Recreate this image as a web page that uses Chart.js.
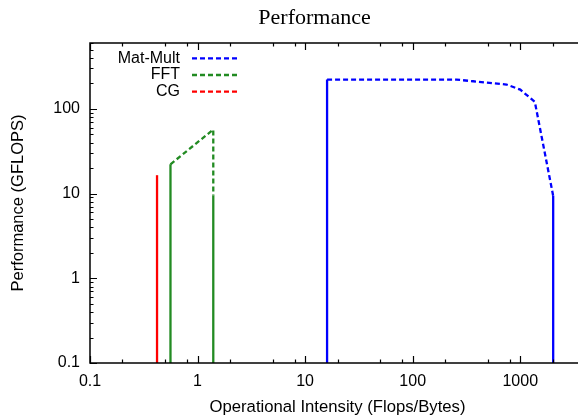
<!DOCTYPE html>
<html><head><meta charset="utf-8">
<script src="https://cdn.jsdelivr.net/npm/chart.js@4/dist/chart.umd.min.js"></script>
<style>html,body{margin:0;padding:0;overflow:hidden;background:#fff}canvas{display:block}</style>
</head><body>
<canvas id="c" width="600" height="417" style="width:600px;height:417px"></canvas>
<script>
const chartTitle = 'Performance';
const xAxisTitle = 'Operational Intensity (Flops/Bytes)';
const yAxisTitle = 'Performance (GFLOPS)';

const seriesNames = ['Mat-Mult', 'FFT', 'CG'];
const seriesColors = ['#0000ff', '#228b22', '#ff0000'];

// Mat-Mult: vertical wall, roof curve, vertical wall
const matMultX = [16, 16, 32, 64, 128, 256, 365, 745, 1000, 1367, 2024, 2024];
const matMultY = [0.1, 222, 222, 222, 222, 222, 212, 194, 169, 121, 9.4, 0.1];
// FFT
const fftX = [0.56, 0.56, 1.4, 1.4, 1.4];
const fftY = [0.1, 22.2, 57, 9.5, 0.1];
// CG
const cgX = [0.42, 0.42];
const cgY = [0.1, 16.5];

const xMajorTicks = [0.1, 1, 10, 100, 1000];
const xTickLabels = ['0.1', '1', '10', '100', '1000'];
const xMinorFactors = [2, 5, 8];
const yMajorTicks = [0.1, 1, 10, 100];
const yTickLabels = ['0.1', '1', '10', '100'];
const yMinorFactors = [2, 3, 4, 5, 6, 7, 8, 9];
const xRange = [0.1, 4000];
const yRange = [0.1, 600];

const seriesX = [matMultX, fftX, cgX];
const seriesY = [matMultY, fftY, cgY];
const DASH = [5, 3];
const SOLID = [];

const datasets = seriesNames.map((name, s) => {
  const xs = seriesX[s], ys = seriesY[s];
  const last = xs.length - 1;
  return {
    label: name,
    data: xs.map((v, i) => ({ x: v, y: ys[i] })),
    showLine: true,
    borderColor: seriesColors[s],
    backgroundColor: seriesColors[s],
    borderWidth: 2.3,
    borderDash: DASH,
    pointRadius: 0,
    tension: 0,
    segment: {
      borderDash: ctx => (ctx.p0DataIndex === 0 || ctx.p1DataIndex === last) ? SOLID : DASH
    }
  };
});

const framePlugin = {
  id: 'frame',
  afterDatasetsDraw(chart) {
    const ctx = chart.ctx, a = chart.chartArea;
    const xs = chart.scales.x, ys = chart.scales.y;
    ctx.save();
    ctx.strokeStyle = '#000';
    ctx.lineWidth = 1.5;
    ctx.setLineDash([]);
    ctx.strokeRect(a.left, a.top, a.right - a.left, a.bottom - a.top);
    ctx.lineWidth = 1.2;
    const major = 7, minor = 3.5;
    const vtick = (v, len) => {
      if (v < xRange[0] || v > xRange[1]) return;
      const px = Math.round(xs.getPixelForValue(v)) + 0.5;
      ctx.beginPath();
      ctx.moveTo(px, a.bottom); ctx.lineTo(px, a.bottom - len);
      ctx.moveTo(px, a.top); ctx.lineTo(px, a.top + len);
      ctx.stroke();
    };
    const htick = (v, len) => {
      if (v < yRange[0] || v > yRange[1]) return;
      const py = Math.round(ys.getPixelForValue(v)) + 0.5;
      ctx.beginPath();
      ctx.moveTo(a.left, py); ctx.lineTo(a.left + len, py);
      ctx.moveTo(a.right, py); ctx.lineTo(a.right - len, py);
      ctx.stroke();
    };
    xMajorTicks.forEach(v => { vtick(v, major); xMinorFactors.forEach(f => vtick(v * f, minor)); });
    yMajorTicks.forEach(v => { htick(v, major); yMinorFactors.forEach(f => htick(v * f, minor)); });

    // title
    ctx.fillStyle = '#000';
    ctx.font = '22px "Liberation Serif"';
    ctx.textAlign = 'center';
    ctx.textBaseline = 'middle';
    ctx.fillText(chartTitle, 314.5, 18);

    // legend (gnuplot style: text then line sample)
    ctx.font = '16px "Liberation Sans"';
    ctx.textAlign = 'right';
    const legY = [58.3, 75, 91.7];
    seriesNames.forEach((n, i) => {
      ctx.fillStyle = '#000';
      ctx.fillText(n, 180, legY[i]);
      ctx.strokeStyle = seriesColors[i];
      ctx.lineWidth = 2.3;
      ctx.setLineDash(DASH);
      ctx.beginPath();
      ctx.moveTo(192, legY[i]); ctx.lineTo(240, legY[i]);
      ctx.stroke();
    });
    ctx.restore();
  }
};

new Chart(document.getElementById('c'), {
  type: 'scatter',
  data: { datasets },
  options: {
    responsive: false,
    animation: false,
    devicePixelRatio: 1,
    layout: { padding: { top: 43, right: 15, left: 0, bottom: 0 } },
    plugins: { legend: { display: false }, tooltip: { enabled: false }, title: { display: false } },
    scales: {
      x: {
        type: 'logarithmic',
        min: xRange[0], max: xRange[1],
        grid: { display: false, drawTicks: false },
        border: { display: false },
        afterBuildTicks: s => { s.ticks = xMajorTicks.map(v => ({ value: v })); },
        afterFit: s => { s.height = 54; },
        ticks: {
          autoSkip: false, maxRotation: 0, padding: 9, color: '#000',
          font: { family: 'Liberation Sans', size: 16 },
          callback: (v) => { const i = xMajorTicks.indexOf(v); return i >= 0 ? xTickLabels[i] : ''; }
        },
        title: { display: true, text: xAxisTitle, color: '#000', padding: { top: 0, bottom: 0 },
                 font: { family: 'Liberation Sans', size: 16.7 } }
      },
      y: {
        type: 'logarithmic',
        min: yRange[0], max: yRange[1],
        grid: { display: false, drawTicks: false },
        border: { display: false },
        afterBuildTicks: s => { s.ticks = yMajorTicks.map(v => ({ value: v })); },
        afterFit: s => { s.width = 90; },
        ticks: {
          autoSkip: false, padding: 10, color: '#000',
          font: { family: 'Liberation Sans', size: 16 },
          callback: (v) => { const i = yMajorTicks.indexOf(v); return i >= 0 ? yTickLabels[i] : ''; }
        },
        title: { display: true, text: yAxisTitle, color: '#000', padding: { top: 9, bottom: 0 },
                 font: { family: 'Liberation Sans', size: 16.5 } }
      }
    }
  },
  plugins: [framePlugin]
});
</script>
</body></html>
